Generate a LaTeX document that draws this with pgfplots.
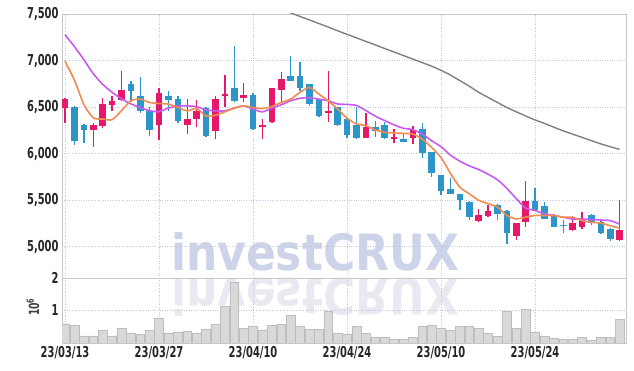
\documentclass[border=0pt]{standalone}
\usepackage{fontspec}
\usepackage{pgfplots}
\pgfplotsset{compat=1.18}
\usepackage{pgfplotstable}
\newfontfamily\tickfont[FakeStretch=0.66]{DejaVu Sans Bold}
\newfontfamily\wmfont[FakeStretch=0.88]{DejaVu Sans Bold}
\definecolor{cup}{HTML}{E6186C}
\definecolor{cdn}{HTML}{2E95C8}
\definecolor{maA}{HTML}{F08C50}
\definecolor{maB}{HTML}{C85AF0}
\definecolor{maC}{HTML}{808080}
\definecolor{gridc}{HTML}{C8C8DC}
\definecolor{volf}{HTML}{D9D9D9}
\definecolor{vold}{HTML}{BEBEBE}
\definecolor{wm}{HTML}{CDD4EA}
\definecolor{wmr}{HTML}{E8E9F1}

\pgfplotstableread{
i o h l c
0 6489 6595 6334 6586
3 6255 6334 6075 6305
4 6298 6593 6280 6532
5 6525 6615 6460 6564
6 6579 6892 6561 6683
10 6305 6701 6147 6647
13 6305 6586 6208 6377
14 6377 6579 6291 6460
16 6244 6622 6154 6586
17 6622 6845 6500 6640
19 6600 6759 6557 6629
21 6291 6377 6161 6305
22 6345 6710 6334 6701
23 6687 6874 6550 6802
28 6442 6892 6341 6460
32 6171 6435 6171 6283
35 6160 6265 6114 6178
37 6164 6294 6103 6254
44 5281 5401 5270 5343
45 5336 5445 5318 5387
48 5117 5260 5073 5255
49 5270 5712 5215 5493
54 5182 5336 5172 5255
55 5215 5372 5190 5299
59 5073 5500 5062 5179
}\uptable

\pgfplotstableread{
i o h l c
1 6500 6514 6096 6136
2 6305 6316 6118 6255
7 6748 6784 6557 6676
8 6615 6820 6442 6460
9 6460 6496 6190 6255
11 6615 6669 6453 6575
12 6586 6615 6334 6352
15 6489 6500 6179 6190
18 6705 7155 6550 6568
20 6629 6647 6251 6262
24 6831 7047 6784 6784
25 6831 6982 6676 6701
26 6748 6748 6514 6532
27 6586 6586 6395 6406
29 6500 6500 6301 6312
30 6374 6374 6164 6200
31 6309 6500 6157 6171
33 6283 6356 6175 6240
34 6309 6338 6157 6171
36 6157 6222 6121 6128
38 6265 6327 5958 6005
39 6013 6020 5753 5789
40 5767 5767 5561 5598
41 5616 5742 5572 5572
42 5572 5572 5392 5507
43 5480 5490 5290 5322
46 5453 5463 5292 5347
47 5387 5398 5033 5153
50 5493 5635 5398 5398
51 5438 5482 5299 5299
52 5343 5354 5208 5215
53 5234 5292 5153 5219
56 5343 5354 5234 5255
57 5263 5292 5142 5153
58 5190 5197 5062 5080
}\dntable

\pgfplotstableread{
i a b
0 6993 7278
1 6790 7150
2 6530 7010
3 6385 6860
4 6372 6745
5 6365 6660
6 6460 6590
7 6568 6535
8 6586 6495
9 6550 6462
10 6539 6450
11 6532 6490
12 6496 6512
13 6460 6514
14 6485 6505
15 6405 6470
16 6413 6460
17 6449 6460
18 6489 6489
19 6514 6514
20 6496 6478
21 6485 6449
22 6507 6489
23 6550 6525
24 6586 6568
25 6658 6595
26 6712 6600
27 6640 6586
28 6568 6568
29 6480 6534
30 6381 6529
31 6320 6518
32 6301 6464
33 6255 6403
34 6229 6356
35 6222 6309
36 6218 6273
37 6211 6258
38 6157 6211
39 6067 6139
40 5958 6075
41 5790 5985
42 5640 5920
43 5570 5870
44 5500 5830
45 5463 5780
46 5427 5720
47 5336 5628
48 5299 5518
49 5318 5416
50 5336 5390
51 5336 5354
52 5336 5336
53 5318 5318
54 5318 5299
55 5281 5299
56 5263 5292
57 5255 5288
58 5226 5281
59 5201 5245
}\matable

\pgfplotstableread{
i v
23 7550
24 7512
25 7474
26 7436
27 7398
28 7360
29 7320
30 7282
31 7244
32 7206
33 7168
34 7130
35 7092
36 7054
37 7016
38 6978
39 6940
40 6895
41 6845
42 6785
43 6725
44 6660
45 6605
46 6550
47 6497
48 6450
49 6405
50 6363
51 6325
52 6285
53 6245
54 6210
55 6175
56 6140
57 6105
58 6075
59 6046
}\longma

\pgfplotstableread{
i v
0 0.59
1 0.54
2 0.22
3 0.22
4 0.38
5 0.22
6 0.46
7 0.31
8 0.28
9 0.38
10 0.77
11 0.31
12 0.34
13 0.37
14 0.31
15 0.41
16 0.59
17 1.14
18 1.86
19 0.46
20 0.53
21 0.40
22 0.54
23 0.57
24 0.84
25 0.53
26 0.41
27 0.41
28 0.97
29 0.31
30 0.27
31 0.50
32 0.30
33 0.19
34 0.19
35 0.11
36 0.11
37 0.18
38 0.52
39 0.56
40 0.44
41 0.38
42 0.51
43 0.53
44 0.44
45 0.30
46 0.21
47 0.97
48 0.44
49 1.05
50 0.33
51 0.21
52 0.16
53 0.11
54 0.11
55 0.18
56 0.08
57 0.18
58 0.18
59 0.72
}\voltable

\pgfplotsset{
  base/.style={
    scale only axis, width=564bp,
    xmin=-0.32, xmax=59.68,
    xtick={0,10,20,30,40,50},
    grid=major,
    major grid style={gridc, dotted, line width=0.7bp},
    major tick length=0pt,
    axis line style={draw=black!22, line width=0.7bp},
    tick label style={font=\tickfont\fontsize{15bp}{18bp}\selectfont, text=black!85},
    /pgf/number format/assume math mode=true,
    /pgf/number format/1000 sep={,},
  },
  wick/.style={draw=none, mark=none, forget plot,
    error bars/.cd, y dir=plus, y explicit, error mark=none,
    error bar style={draw=#1, line width=1.4bp}},
  body/.style={draw=none, mark=none, forget plot,
    error bars/.cd, y dir=plus, y explicit, error mark=none,
    error bar style={draw=#1, line width=6.6bp}},
}

\begin{document}
\begin{tikzpicture}
% watermark
\node[anchor=base, inner sep=0, text=wm, font=\wmfont\fontsize{50bp}{50bp}\selectfont] at (253bp,72bp) {investCRUX};
\node[anchor=base, inner sep=0, yscale=-1, text=wmr, font=\wmfont\fontsize{50bp}{50bp}\selectfont] at (253bp,64bp) {investCRUX};

\begin{axis}[base, at={(0bp,65bp)}, anchor=south west, height=264bp,
  ymin=4665, ymax=7500, ytick={5000,5500,6000,6500,7000,7500},
  xticklabels={}]
  \addplot[wick=cup] table[x=i, y=l, y error plus expr=\thisrow{h}-\thisrow{l}] \uptable;
  \addplot[body=cup] table[x=i, y=o, y error plus expr=\thisrow{c}-\thisrow{o}] \uptable;
  \addplot[wick=cdn] table[x=i, y=l, y error plus expr=\thisrow{h}-\thisrow{l}] \dntable;
  \addplot[body=cdn] table[x=i, y=c, y error plus expr=\thisrow{o}-\thisrow{c}] \dntable;
  \addplot[maC, line width=1.4bp, smooth, tension=0.4, no markers] table[x=i, y=v] \longma;
  \addplot[maB, line width=1.6bp, smooth, tension=0.4, no markers] table[x=i, y=b] \matable;
  \addplot[maA, line width=1.6bp, smooth, tension=0.4, no markers] table[x=i, y=a] \matable;
\end{axis}

\begin{axis}[base, at={(0bp,0bp)}, anchor=south west, height=65bp,
  ymin=0, ymax=2, ytick={1,2},
  xticklabels={23/03/13,23/03/27,23/04/10,23/04/24,23/05/10,23/05/24},
  ybar, bar width=0.94]
  \addplot[fill=volf, draw=vold, line width=0.5bp] table[x=i, y=v] \voltable;
\end{axis}

\node[rotate=90, text=black!75, font=\tickfont\fontsize{14bp}{16bp}\selectfont] at (-29bp,36bp) {10\textsuperscript{6}};

\pgfresetboundingbox
\path[use as bounding box] (-62bp,-28bp) rectangle (572bp,343bp);
\end{tikzpicture}
\end{document}
